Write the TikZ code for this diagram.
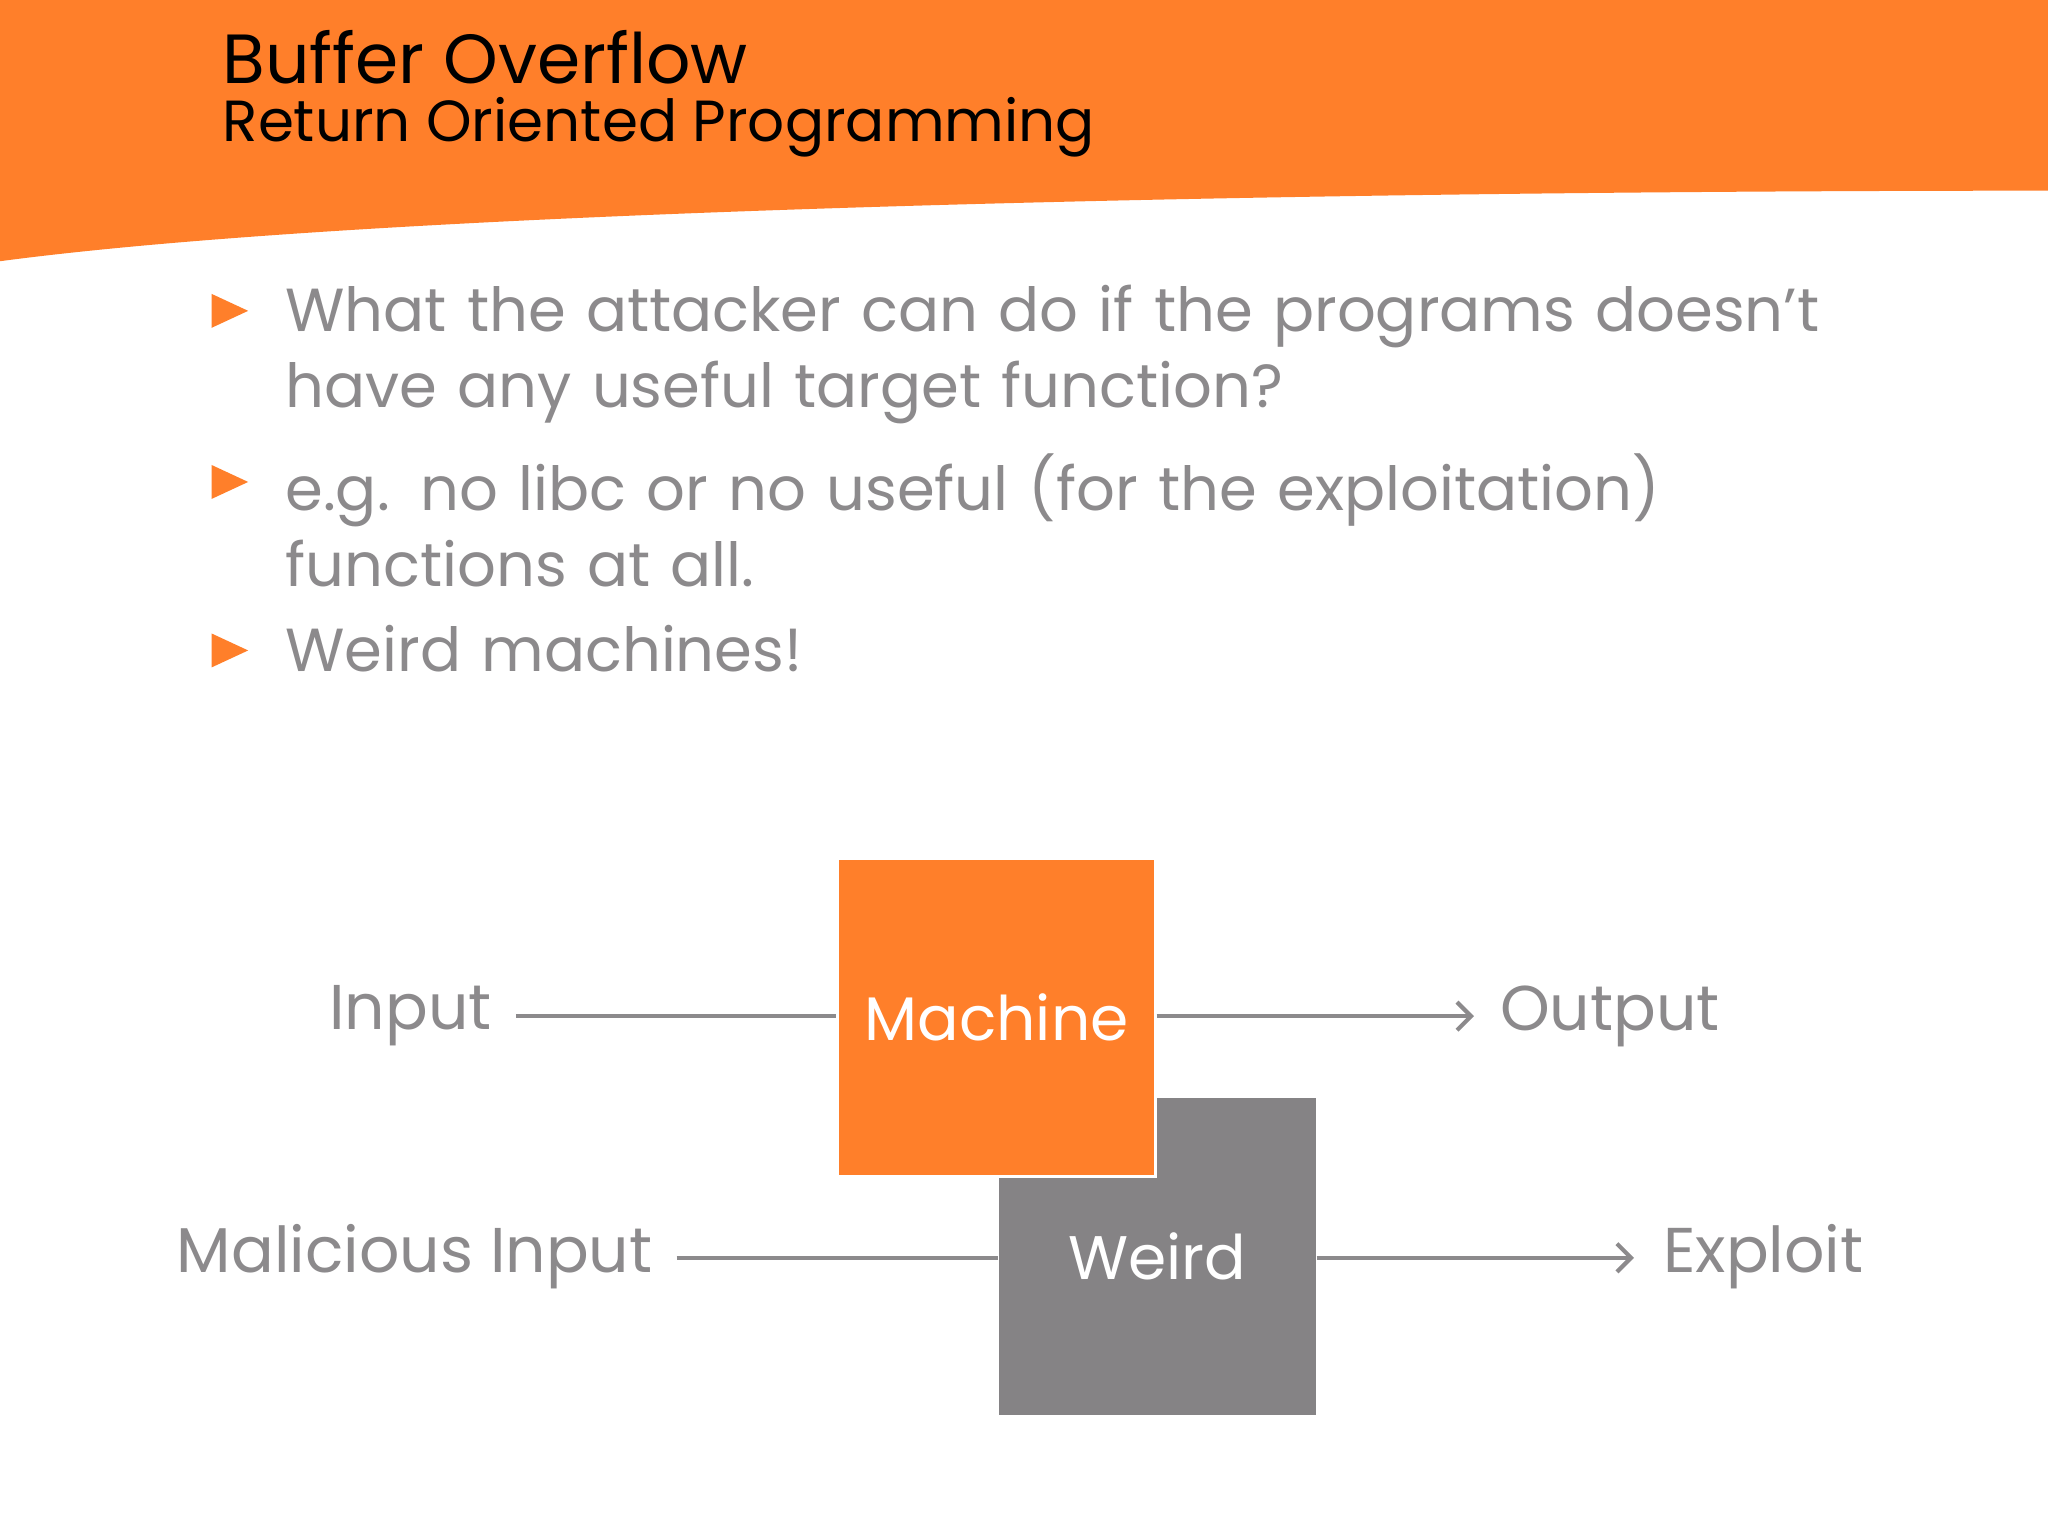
\documentclass[tikz,border=0pt]{standalone}
\usepackage{fontspec}
\setmainfont{Poppins}
\usetikzlibrary{arrows.meta}
\definecolor{org}{HTML}{FF7F2A}
\definecolor{txt}{HTML}{8C8A8C}
\definecolor{wgray}{HTML}{858385}
\tikzset{
  lbl/.style={text=txt,font=\fontsize{18}{22}\selectfont,inner sep=0pt},
  bul/.style={text=txt,font=\fontsize{17.3}{21.5}\selectfont,anchor=north west,inner sep=0pt,align=left,text width=17cm},
  conn/.style={draw=txt,line width=1.2pt},
  arr/.style={conn,-{Straight Barb[length=4pt,width=8pt]}},
  tri/.style={fill=org,draw=none},
  box/.style={minimum width=3.174cm,minimum height=3.174cm,inner sep=0pt,text=white,font=\fontsize{17.5}{22}\selectfont}
}
\begin{document}
\begin{tikzpicture}[x=0.013061cm,y=-0.013061cm]
\useasboundingbox (0,0) rectangle (1568,1176);
\fill[white] (0,0) rectangle (1568,1176);
\fill[org] (0,0) -- (1568,0) -- (1568,146) .. controls (1000,146) and (300,160) .. (0,200) -- cycle;
\node[anchor=base west,inner sep=0pt,font=\fontsize{19.8}{24}\selectfont] (t1) at (170,64) {Buffer Overflow};
\node[anchor=base west,inner sep=0pt,font=\fontsize{16.5}{20}\selectfont] (t2) at (170,108) {Return Oriented Programming};
\foreach \y in {238,369,498}{\fill[tri] (162,\y-13) -- (190,\y) -- (162,\y+13) -- cycle;}
\node[bul] (b1) at (218,218) {What the attacker can do if the programs doesn’t\\have any useful target function?};
\node[bul] (b2) at (218,347) {e.g. no libc or no useful (for the exploitation)\\functions at all.};
\node[bul] (b3) at (218,478) {Weird machines!};
\node[box,fill=wgray] (w) at (886,962) {Weird};
\node[box,fill=org,draw=white,line width=0.8pt] (m) at (763,779) {Machine};
\node[lbl,anchor=east] (in) at (377,778) {Input};
\node[lbl,anchor=west] (out) at (1148,778) {Output};
\node[lbl,anchor=east] (mi) at (500,962) {Malicious Input};
\node[lbl,anchor=west] (ex) at (1273,962) {Exploit};
\draw[conn] (in.east)++(18,0) coordinate (a1) -- (m.west|-a1);
\draw[arr] (m.east|-a1) -- ++(243,0);
\draw[conn] (mi.east)++(18,1) coordinate (a2) -- (w.west|-a2);
\draw[arr] (w.east|-a2) -- ++(243,0);
\end{tikzpicture}
\end{document}
